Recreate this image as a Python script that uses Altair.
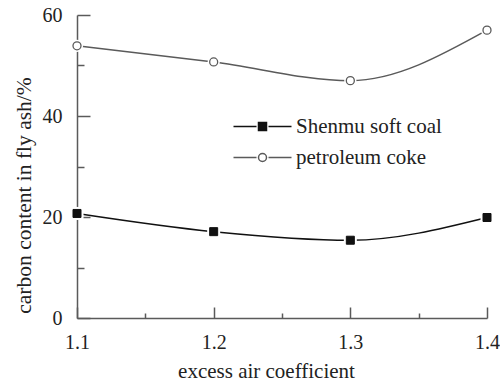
import altair as alt
import pandas as pd

# ---- data ----
x_values = [1.1, 1.2, 1.3, 1.4]
shenmu = [20.7, 17.1, 15.4, 19.9]
coke = [53.9, 50.7, 47.0, 57.0]
series_names = ["Shenmu soft coal", "petroleum coke"]
x_major = [1.1, 1.2, 1.3, 1.4]
x_minor = [1.1, 1.15, 1.2, 1.25, 1.3, 1.35, 1.4]
y_major = [0, 20, 40, 60]
y_minor = [0, 10, 20, 30, 40, 50, 60]

rows = []
for xv, s, c in zip(x_values, shenmu, coke):
    rows.append({"x": xv, "y": s, "series": series_names[0]})
    rows.append({"x": xv, "y": c, "series": series_names[1]})
df = pd.DataFrame(rows)

FONT = "Liberation Serif"
W, H = 410, 303
AX = "#5a5a5a"
TXT = "#222222"
line_colors = ["#111111", "#5a5a5a"]
marker_fill = ["#111111", "#ffffff"]
marker_stroke = ["#111111", "#5a5a5a"]

# legend symbols: line - marker - line (path units, scaled by sqrt(size)/2)
path_sq = "M-6.25,0H-3.375M-1.875,0H1M-3.125,-0.5H-2.125V0.5H-3.125Z"
path_ci = "M-6.25,0H-3.375M-1.875,0H1M-2.125,0A0.5,0.5 0 1,1 -3.125,0A0.5,0.5 0 1,1 -2.125,0Z"

xscale = alt.Scale(domain=[1.1, 1.4], nice=False, zero=False)
yscale = alt.Scale(domain=[0, 60], nice=False)

base = alt.Chart(df)

x_main_axis = alt.Axis(
    orient="bottom", values=x_major, format=".1f", ticks=False, tickSize=0,
    domainColor=AX, domainWidth=1.5, grid=False,
    labelFont=FONT, labelFontSize=20, labelColor=TXT, labelBaseline="alphabetic",
    labelPadding=30, labelFlush=False,
    title="excess air coefficient", titleFont=FONT, titleFontSize=21,
    titleFontWeight="normal", titleColor=TXT, titleX=189, titleY=59,
    titleBaseline="alphabetic", titleAlign="center",
)
y_main_axis = alt.Axis(
    orient="left", values=y_major, ticks=False, tickSize=0,
    domainColor=AX, domainWidth=1.5, grid=False,
    labelFont=FONT, labelFontSize=20, labelColor=TXT, labelBaseline="middle",
    labelPadding=15, labelFlush=False,
    title="carbon content in fly ash/%", titleFont=FONT, titleFontSize=21.5,
    titleFontWeight="normal", titleColor=TXT, titleX=-47, titleY=180,
    titleBaseline="alphabetic", titleAlign="center", titleAngle=270,
)
x_tick_axis = alt.Axis(
    orient="top", offset=-H, values=x_minor, labels=False, domain=False,
    ticks=True, tickColor=AX, tickWidth=1.5, grid=False, title=None,
    tickSize={"condition": {"test": "abs(datum.value*10 - round(datum.value*10)) < 0.001", "value": 11}, "value": 5},
)
y_tick_axis = alt.Axis(
    orient="right", offset=-W, values=y_minor, labels=False, domain=False,
    ticks=True, tickColor=AX, tickWidth=1.5, grid=False, title=None,
    tickSize={"condition": {"test": "datum.value % 20 === 0", "value": 13}, "value": 7},
)

sq = base.transform_filter(alt.datum.series == series_names[0])
ci = base.transform_filter(alt.datum.series == series_names[1])

line_sq = sq.mark_line(interpolate="monotone", strokeWidth=1.5, color=line_colors[0]).encode(
    x=alt.X("x:Q", scale=xscale, axis=x_main_axis),
    y=alt.Y("y:Q", scale=yscale, axis=y_main_axis),
)
line_ci = ci.mark_line(interpolate="monotone", strokeWidth=1.5, color=line_colors[1]).encode(
    x=alt.X("x:Q", scale=xscale, axis=None),
    y=alt.Y("y:Q", scale=yscale, axis=None),
)

halo_sq = sq.mark_square(size=170, color="white", opacity=1).encode(
    x=alt.X("x:Q", scale=xscale, axis=None), y=alt.Y("y:Q", scale=yscale, axis=None))
halo_ci = ci.mark_circle(size=150, color="white", opacity=1).encode(
    x=alt.X("x:Q", scale=xscale, axis=None), y=alt.Y("y:Q", scale=yscale, axis=None))

mk_sq = sq.mark_square(size=64, fill=marker_fill[0], stroke=marker_stroke[0], strokeWidth=1, opacity=1).encode(
    x=alt.X("x:Q", scale=xscale, axis=x_tick_axis), y=alt.Y("y:Q", scale=yscale, axis=y_tick_axis))
mk_ci = ci.mark_circle(size=64, fill=marker_fill[1], stroke=marker_stroke[1], strokeWidth=1.3, opacity=1).encode(
    x=alt.X("x:Q", scale=xscale, axis=None), y=alt.Y("y:Q", scale=yscale, axis=None))

leg = dict(
    orient="none", legendX=196, legendY=101, title=None, padding=0,
    labelFont=FONT, labelFontSize=21, labelColor=TXT, labelOffset=2,
    rowPadding=9, symbolSize=256, symbolStrokeWidth=1.5, symbolOpacity=1,
)
# invisible marks that only carry the legend
legend_layer = base.mark_point(filled=True, size=256, strokeWidth=1.5, opacity=0).encode(
    x=alt.X("x:Q", scale=xscale, axis=None),
    y=alt.Y("y:Q", scale=yscale, axis=None),
    shape=alt.Shape("series:N", scale=alt.Scale(domain=series_names, range=[path_sq, path_ci]), legend=alt.Legend(**leg)),
    fill=alt.Fill("series:N", scale=alt.Scale(domain=series_names, range=marker_fill), legend=alt.Legend(**leg)),
    stroke=alt.Stroke("series:N", scale=alt.Scale(domain=series_names, range=marker_stroke), legend=alt.Legend(**leg)),
)

chart = alt.layer(line_sq, line_ci, halo_sq, halo_ci, mk_sq, mk_ci, legend_layer).resolve_axis(
    x="independent", y="independent"
).properties(
    width=W, height=H,
    autosize=alt.AutoSizeParams(type="none"),
    padding={"left": 77, "top": 15, "right": 13, "bottom": 69},
    background="white",
).configure_view(stroke=None)

chart.save("out.html", embed_options={"renderer": "svg", "actions": False})
